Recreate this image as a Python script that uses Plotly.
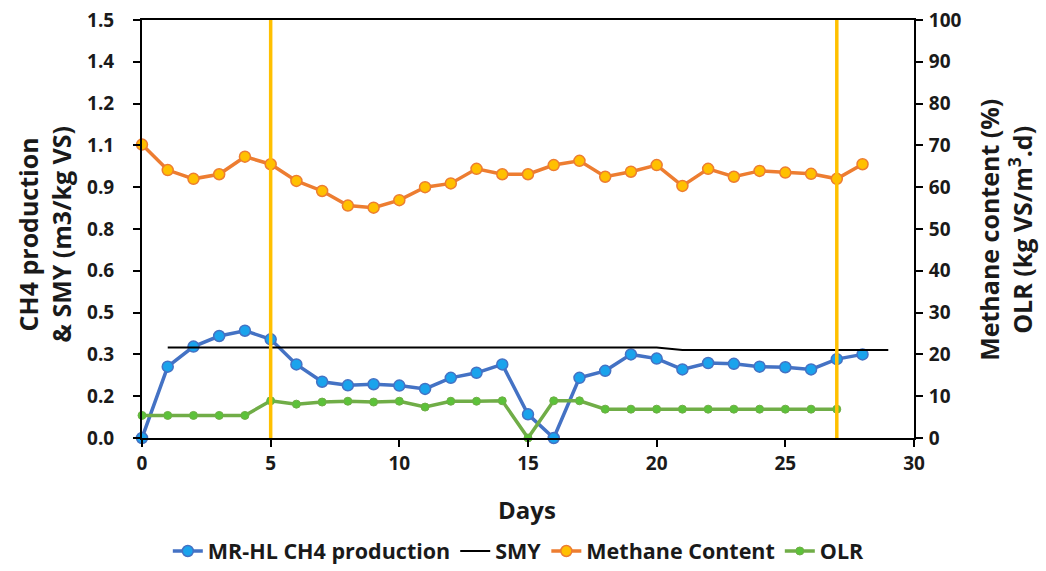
import plotly.graph_objects as go

# Days of operation
days = list(range(0, 29))

# CH4 production of the MR-HL reactor (m3/kg VS)
ch4_production = [0.0, 0.256, 0.328, 0.366, 0.385, 0.354, 0.264, 0.202, 0.189, 0.193,
                  0.188, 0.176, 0.216, 0.234, 0.264, 0.085, 0.0, 0.216, 0.241, 0.300,
                  0.285, 0.246, 0.269, 0.266, 0.256, 0.254, 0.246, 0.283, 0.300]

# Specific methane yield reference line (m3/kg VS)
smy_days = list(range(1, 30))
smy_values = [0.325] * 20 + [0.316] * 9

# Methane content of the biogas (%)
methane_content = [70.2, 64.1, 62.0, 63.1, 67.3, 65.5, 61.5, 59.1, 55.6, 55.1,
                   56.9, 60.0, 60.9, 64.4, 63.1, 63.1, 65.3, 66.3, 62.5, 63.7,
                   65.3, 60.3, 64.4, 62.5, 63.9, 63.5, 63.2, 62.0, 65.5]

# Organic loading rate (kg VS/m3.d)
olr_days = list(range(0, 28))
olr_values = [5.4, 5.4, 5.4, 5.4, 5.4, 8.9, 8.1, 8.6, 8.8, 8.6,
              8.8, 7.4, 8.8, 8.8, 8.9, 0.0, 8.9, 8.9, 6.9, 6.9,
              6.9, 6.9, 6.9, 6.9, 6.9, 6.9, 6.9, 6.9]

# Days marking a change of operating phase
phase_days = [5, 27]

# Left axis ticks (Excel-style rounded labels)
left_tickvals = [0.0, 0.15, 0.30, 0.45, 0.60, 0.75, 0.90, 1.05, 1.20, 1.35, 1.50]
left_ticktext = ["0.0", "0.2", "0.3", "0.5", "0.6", "0.8", "0.9", "1.1", "1.2", "1.4", "1.5"]

FONT = "Open Sans"
TEXT = "#1a1a1a"
BLUE, BLUE_FILL = "#4472C4", "#1AA3EC"
ORANGE, ORANGE_FILL = "#ED7D31", "#FFC000"
GREEN, GREEN_FILL = "#70AD47", "#5CC23A"
YELLOW = "#FFC000"

fig = go.Figure()

fig.add_trace(go.Scatter(
    x=days, y=ch4_production, name="MR-HL CH4 production", mode="lines+markers",
    line=dict(color=BLUE, width=3.5),
    marker=dict(size=11, color=BLUE_FILL, line=dict(color=BLUE, width=1.5)),
    cliponaxis=False, yaxis="y"))

fig.add_trace(go.Scatter(
    x=smy_days, y=smy_values, name="SMY", mode="lines",
    line=dict(color="black", width=2), cliponaxis=False, yaxis="y"))

fig.add_trace(go.Scatter(
    x=days, y=methane_content, name="Methane Content", mode="lines+markers",
    line=dict(color=ORANGE, width=3.5),
    marker=dict(size=11, color=ORANGE_FILL, line=dict(color=ORANGE, width=1.5)),
    cliponaxis=False, yaxis="y2"))

fig.add_trace(go.Scatter(
    x=olr_days, y=olr_values, name="OLR", mode="lines+markers",
    line=dict(color=GREEN, width=3.5),
    marker=dict(size=8, color=GREEN_FILL, line=dict(color=GREEN, width=1)),
    cliponaxis=False, yaxis="y2"))

for d in phase_days:
    fig.add_shape(type="line", xref="x", yref="paper", x0=d, x1=d, y0=0, y1=1,
                  line=dict(color=YELLOW, width=3.5), layer="above")

tick_font = dict(family=FONT, size=19, color=TEXT, weight="bold")
title_font = dict(family=FONT, size=25, color=TEXT, weight="bold")

axis_common = dict(showgrid=False, zeroline=False, showline=True, linecolor="black",
                   linewidth=2, ticks="outside", ticklen=7, tickwidth=2,
                   tickcolor="black", tickfont=tick_font, automargin=False)

fig.update_layout(
    width=1046, height=571,
    margin=dict(l=142, r=132, t=20, b=133),
    paper_bgcolor="white", plot_bgcolor="white",
    font=dict(family=FONT, color=TEXT),
    showlegend=True,
    legend=dict(orientation="h", xref="container", yref="container",
                x=0.496, xanchor="center", y=0.035, yanchor="middle",
                font=dict(family=FONT, size=21.5, color=TEXT, weight="bold"),
                itemwidth=30, tracegroupgap=0, bgcolor="rgba(0,0,0,0)"),
    xaxis=dict(range=[0, 30], dtick=5, tick0=0, mirror=True, **axis_common),
    yaxis=dict(range=[0, 1.5], tickmode="array", tickvals=left_tickvals,
               ticktext=left_ticktext, ticklabelstandoff=15, **axis_common),
    yaxis2=dict(range=[0, 100], dtick=10, overlaying="y", side="right",
                ticklabelstandoff=2, **axis_common),
)

annotations = [
    dict(text="CH4 production<br>& SMY (m3/kg VS)", textangle=-90,
         x=(45 - 142) / 772, y=0.486, size=25),
    dict(text="Methane content (%)<br>OLR (kg VS/m<sup>3</sup>.d)", textangle=-90,
         x=(1006 - 142) / 772, y=0.498, size=25),
    dict(text="Days", x=(527 - 142) / 772, y=-0.172, size=24),
]
for a in annotations:
    size = a.pop("size")
    fig.add_annotation(xref="paper", yref="paper", showarrow=False,
                       xanchor="center", yanchor="middle",
                       font=dict(title_font, size=size), **a)

fig.write_html("out.html")
